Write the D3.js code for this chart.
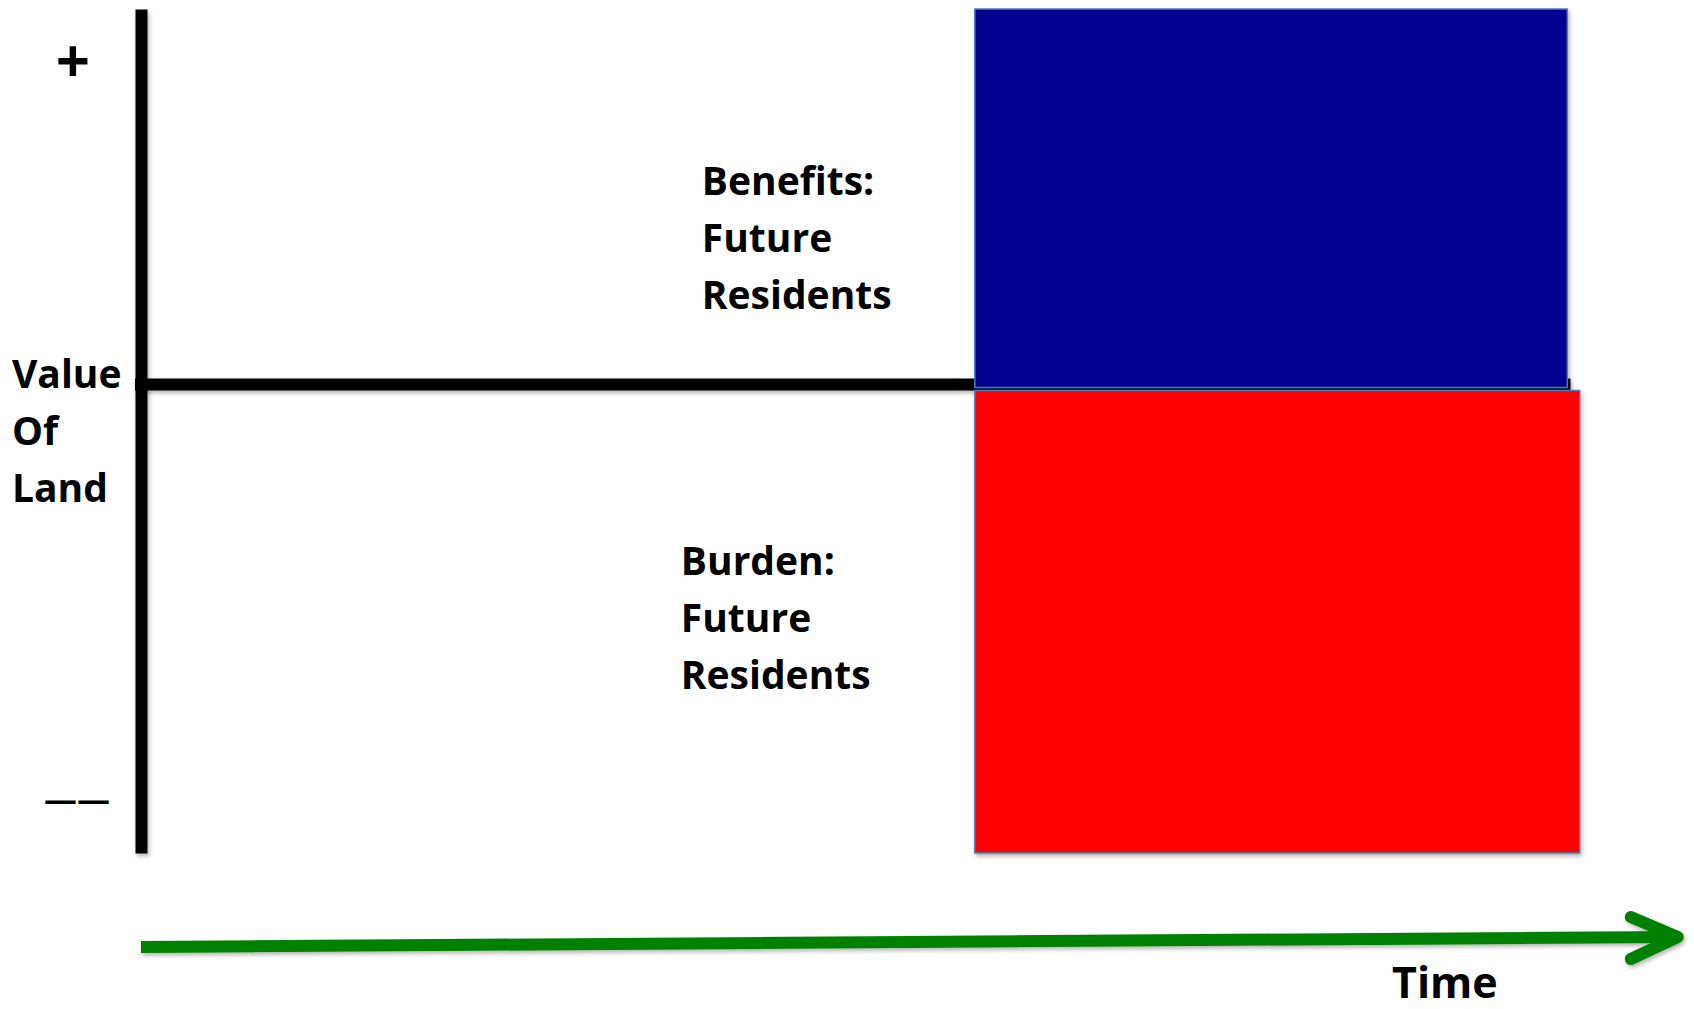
<!DOCTYPE html>
<html>
<head>
<meta charset="utf-8">
<script src="https://cdn.jsdelivr.net/npm/d3@7"></script>
<style>
  body { margin: 0; background: #fff; }
  text { font-family: "Open Sans", "DejaVu Sans", sans-serif; font-weight: 700; fill: #000; }
</style>
</head>
<body>
<div id="chart"></div>
<script>
// data
const barNames = ["Benefits", "Burden"];
const barLabels = [["Benefits:", "Future", "Residents"], ["Burden:", "Future", "Residents"]];
const barValues = [1.0, -1.23];      // value of land (relative)
const barStart = [53.9, 53.9];       // time the effect starts
const barEnd = [92.2, 93.0];         // time the effect ends
const barColors = ["#000090", "#ff0000"];
const yTickValues = [0.864, -1.094];
const yTickLabels = ["+", "——"];
const yTitle = ["Value", "Of", "Land"];
const xTitle = "Time";

const width = 1694, height = 1009;
const margin = { top: 9, right: 6, bottom: 156, left: 141 };

const svg = d3.select("#chart").append("svg")
  .attr("width", width)
  .attr("height", height);

// soft shadow, big user-space region so thin/translated marks keep it
const defs = svg.append("defs");
const shadow = defs.append("filter").attr("id", "shadow")
  .attr("filterUnits", "userSpaceOnUse")
  .attr("x", -500).attr("y", -500).attr("width", 3000).attr("height", 3000);
shadow.append("feDropShadow")
  .attr("dx", 1.5).attr("dy", 2.5).attr("stdDeviation", 2)
  .attr("flood-color", "#000").attr("flood-opacity", 0.3);

const x = d3.scaleLinear().domain([0, 100]).range([margin.left, width - margin.right]);
const y = d3.scaleLinear().domain([-1.23, 1]).range([height - margin.bottom, margin.top]);

// horizontal zero line (ends just past the blue bar)
svg.append("line")
  .attr("x1", x(0) - 6).attr("x2", x(92.4))
  .attr("y1", y(0) - 3).attr("y2", y(0) - 3)
  .attr("stroke", "#000").attr("stroke-width", 12)
  .attr("filter", "url(#shadow)");

// vertical axis
const yAxis = d3.axisLeft(y)
  .tickValues(yTickValues)
  .tickFormat((d, i) => yTickLabels[i])
  .tickSize(0)
  .tickSizeOuter(0)
  .tickPadding(0);
const gy = svg.append("g")
  .attr("transform", `translate(${x(0)},0)`)
  .call(yAxis);
gy.select(".domain")
  .attr("stroke", "#000")
  .attr("stroke-width", 12)
  .attr("filter", "url(#shadow)");
gy.selectAll(".tick text")
  .attr("text-anchor", "middle")
  .attr("font-family", null)
  .attr("font-size", null)
  .attr("x", (d, i) => i === 0 ? -68 : -64)
  .attr("dy", (d, i) => i === 0 ? "0.36em" : "0.27em")
  .style("font-size", (d, i) => i === 0 ? "60px" : "33px")
  .style("fill", "#000");

// bars
svg.append("g").selectAll("rect")
  .data(barValues)
  .join("rect")
  .attr("x", (d, i) => x(barStart[i]))
  .attr("width", (d, i) => x(barEnd[i]) - x(barStart[i]))
  .attr("y", d => d > 0 ? y(d) : y(0) + 3)
  .attr("height", d => d > 0 ? y(0) - y(d) : y(d) - y(0) - 3)
  .attr("fill", (d, i) => barColors[i])
  .attr("stroke", "#4a7ebb")
  .attr("stroke-width", 1.5)
  .attr("filter", "url(#shadow)");

// bar labels
const labelPos = [{ dx: -273, y: 195 }, { dx: -294, y: 575 }];
barLabels.forEach((lines, i) => {
  svg.append("text")
    .attr("class", "bar-label " + barNames[i])
    .attr("x", x(barStart[i]) + labelPos[i].dx)
    .attr("y", labelPos[i].y)
    .style("font-size", "39px")
    .selectAll("tspan")
    .data(lines)
    .join("tspan")
    .attr("x", x(barStart[i]) + labelPos[i].dx)
    .attr("dy", (d, j) => j === 0 ? 0 : 57)
    .text(d => d);
});

// y title
svg.append("text")
  .attr("y", 388)
  .style("font-size", "39px")
  .selectAll("tspan")
  .data(yTitle)
  .join("tspan")
  .attr("x", 12)
  .attr("dy", (d, j) => j === 0 ? 0 : 57)
  .text(d => d);

// time arrow
const arrowY0 = 947, arrowY1 = 937;
const arrow = svg.append("g")
  .attr("fill", "none")
  .attr("stroke", "#008000")
  .attr("stroke-width", 12)
  .attr("stroke-linecap", "round")
  .attr("stroke-linejoin", "round")
  .attr("filter", "url(#shadow)");
arrow.append("path")
  .attr("d", d3.line()([[x(0), arrowY0], [x(99.6) - 4, arrowY1]]))
  .attr("stroke-linecap", "butt");
arrow.append("path")
  .attr("d", d3.line()([[x(96.3), 917], [x(99.6) - 4, arrowY1], [x(96.3), 959]]));

svg.append("text")
  .attr("x", 1392)
  .attr("y", 998)
  .style("font-size", "43px")
  .text(xTitle);
</script>
</body>
</html>
